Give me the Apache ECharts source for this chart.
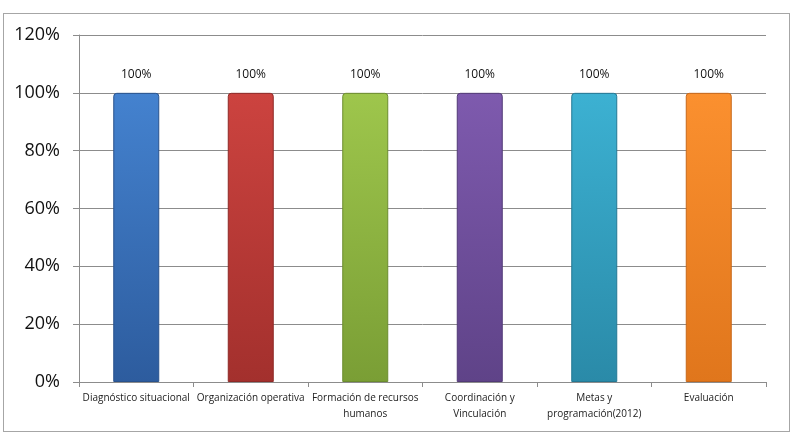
<!DOCTYPE html>
<html>
<head>
<meta charset="utf-8">
<script src="https://cdn.jsdelivr.net/npm/echarts@6/dist/echarts.min.js"></script>
<style>
  html, body { margin: 0; padding: 0; background: #fff; }
  #frame { position: absolute; left: 3px; top: 13px; width: 785px; height: 417px; border: 1px solid #a6a6a6; }
  #chart { position: absolute; left: 0; top: 0; width: 797px; height: 436px; }
</style>
</head>
<body>
<div id="frame"></div>
<div id="chart"></div>
<script>
const categories = ['Diagnóstico situacional', 'Organización operativa', 'Formación de recursos\nhumanos', 'Coordinación y\nVinculación', 'Metas y\nprogramación(2012)', 'Evaluación']
const values = [1, 1, 1, 1, 1, 1]
const yTicks = [0, 0.2, 0.4, 0.6, 0.8, 1.0, 1.2]
// colores de cada barra: arriba claro, abajo oscuro, borde
const barColors = [
  ['#4482cf', '#2d5c9e', '#28528d'],
  ['#cc433f', '#a3302d', '#8f2a27'],
  ['#9ec64c', '#7a9e35', '#6b8c2e'],
  ['#7e5aae', '#5f4388', '#523a77'],
  ['#3cb1d2', '#2a8aa8', '#237894'],
  ['#fb902f', '#e0761c', '#c7681a']
]

const chart = echarts.init(document.getElementById('chart'))

function grad(c) {
  return new echarts.graphic.LinearGradient(0, 0, 0, 1, [
    { offset: 0, color: c[0] },
    { offset: 1, color: c[1] }
  ])
}

chart.setOption({
  animation: false,
  grid: { left: 79, right: 31, top: 35, bottom: 54 },
  xAxis: {
    type: 'category',
    data: categories,
    axisLine: { lineStyle: { color: '#8c8c8c' } },
    axisTick: { show: true, length: 5, lineStyle: { color: '#8c8c8c' } },
    axisLabel: {
      interval: 0,
      color: '#222',
      fontFamily: 'Open Sans',
      fontSize: 10,
      lineHeight: 16,
      margin: 8
    }
  },
  yAxis: {
    type: 'value',
    min: 0,
    max: 1.2,
    interval: 0.2,
    axisLine: { show: true, lineStyle: { color: '#8c8c8c' } },
    axisTick: { show: true, length: 6, lineStyle: { color: '#8c8c8c' } },
    splitLine: { lineStyle: { color: '#8c8c8c' } },
    axisLabel: {
      color: '#111',
      fontFamily: 'Open Sans',
      fontSize: 18,
      margin: 19,
      formatter: v => yTicks.indexOf(Math.round(v * 10) / 10) >= 0 ? Math.round(v * 100) + '%' : ''
    }
  },
  series: [{
    type: 'bar',
    barWidth: 46,
    data: values.map((v, i) => ({
      value: v,
      itemStyle: { color: grad(barColors[i]), borderColor: barColors[i][2], borderWidth: 1, borderRadius: [3, 3, 0, 0] }
    })),
    label: {
      show: true,
      position: 'top',
      distance: 12,
      color: '#111',
      fontFamily: 'Open Sans',
      fontSize: 12,
      formatter: p => Math.round(p.value * 100) + '%'
    }
  }]
})
</script>
</body>
</html>
